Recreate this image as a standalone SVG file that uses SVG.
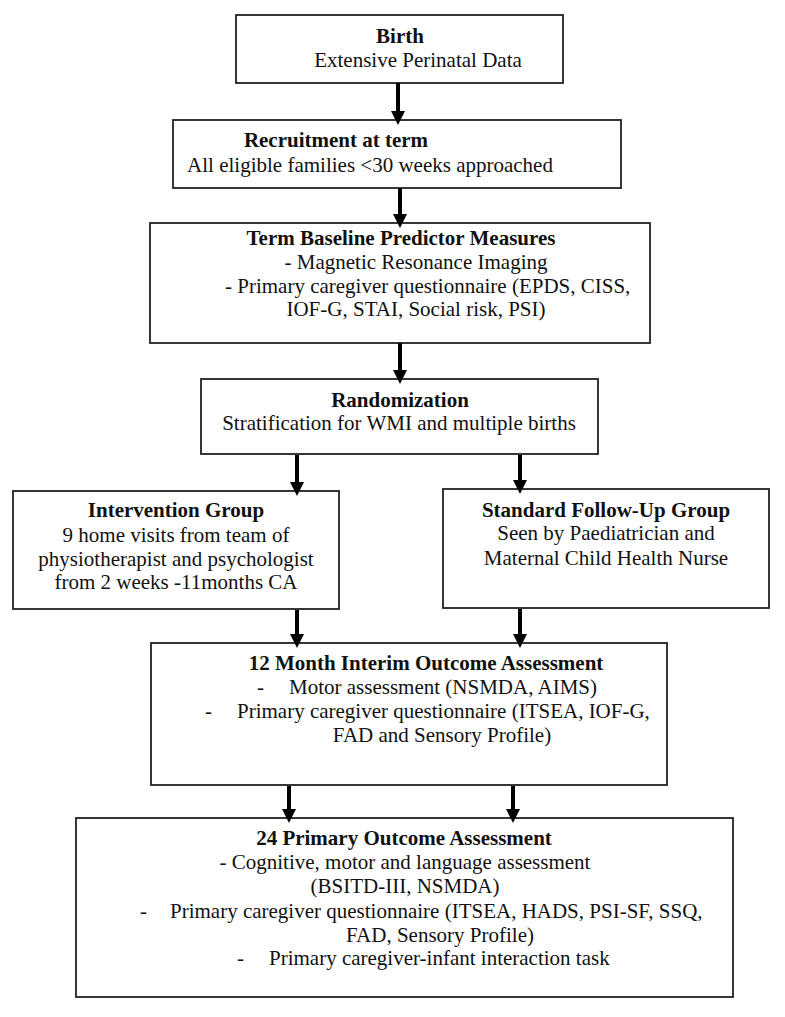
<svg xmlns="http://www.w3.org/2000/svg" width="785" height="1017" viewBox="0 0 785 1017">
<style>
.box{fill:#fff;stroke:#222;stroke-width:1.8}
text{font-family:"Liberation Serif","Times New Roman",serif;font-size:21px;fill:#111}
.b{font-weight:bold}
.c{text-anchor:middle}
.arr{stroke:#000;stroke-width:4;fill:none;marker-end:url(#ah)}
</style>
<defs>
<marker id="ah" markerUnits="userSpaceOnUse" markerWidth="14" markerHeight="14" refX="8" refY="7" orient="auto" viewBox="0 0 14 14">
<path d="M0,0 L14,7 L0,14 z" fill="#000"/>
</marker>
</defs>
<rect width="785" height="1017" fill="#fff"/>
<g id="birth">
<rect class="box" x="236" y="15" width="327" height="68"/>
<text class="b c" x="400" y="43">Birth</text>
<text class="c" x="418" y="67">Extensive Perinatal Data</text>
</g>
<g id="recruitment">
<rect class="box" x="173" y="120" width="448" height="68"/>
<text class="b c" x="336" y="147">Recruitment at term</text>
<text class="c" x="370" y="172">All eligible families &lt;30 weeks approached</text>
</g>
<g id="baseline">
<rect class="box" x="150" y="223" width="500" height="120"/>
<text class="b c" x="401" y="245">Term Baseline Predictor Measures</text>
<text class="c" x="416" y="269">- Magnetic Resonance Imaging</text>
<text x="225" y="293">- Primary caregiver questionnaire (EPDS, CISS,</text>
<text class="c" x="416" y="316">IOF-G, STAI, Social risk, PSI)</text>
</g>
<g id="randomization">
<rect class="box" x="201" y="379" width="397" height="75"/>
<text class="b c" x="400" y="407">Randomization</text>
<text class="c" x="399" y="430">Stratification for WMI and multiple births</text>
</g>
<g id="intervention">
<rect class="box" x="13" y="491" width="326" height="118"/>
<text class="b c" x="176" y="517">Intervention Group</text>
<text class="c" x="176" y="542">9 home visits from team of</text>
<text class="c" x="176" y="566">physiotherapist and psychologist</text>
<text class="c" x="176" y="589">from 2 weeks -11months CA</text>
</g>
<g id="standard">
<rect class="box" x="443" y="489" width="326" height="119"/>
<text class="b c" x="606" y="517">Standard Follow-Up Group</text>
<text class="c" x="606" y="540">Seen by Paediatrician and</text>
<text class="c" x="606" y="565">Maternal Child Health Nurse</text>
</g>
<g id="interim">
<rect class="box" x="151" y="643" width="516" height="142"/>
<text class="b c" x="426" y="670">12 Month Interim Outcome Assessment</text>
<text x="257" y="694">-</text>
<text x="289" y="694">Motor assessment (NSMDA, AIMS)</text>
<text x="205" y="718">-</text>
<text x="237" y="718">Primary caregiver questionnaire (ITSEA, IOF-G,</text>
<text class="c" x="442" y="742">FAD and Sensory Profile)</text>
</g>
<g id="primary">
<rect class="box" x="76" y="818" width="657" height="179"/>
<text class="b c" x="404" y="845">24 Primary Outcome Assessment</text>
<text class="c" x="405" y="869">- Cognitive, motor and language assessment</text>
<text class="c" x="405" y="893">(BSITD-III, NSMDA)</text>
<text x="140" y="918">-</text>
<text x="170" y="918">Primary caregiver questionnaire (ITSEA, HADS, PSI-SF, SSQ,</text>
<text class="c" x="440" y="942">FAD, Sensory Profile)</text>
<text x="237" y="965">-</text>
<text x="269" y="965">Primary caregiver-infant interaction task</text>
</g>
<g id="connectors">
<line class="arr" x1="398" y1="83" x2="398" y2="119"/>
<line class="arr" x1="400" y1="188" x2="400" y2="222"/>
<line class="arr" x1="400" y1="343" x2="400" y2="378"/>
<line class="arr" x1="297" y1="455" x2="297" y2="490"/>
<line class="arr" x1="520" y1="455" x2="520" y2="488"/>
<line class="arr" x1="297" y1="610" x2="297" y2="642"/>
<line class="arr" x1="520" y1="609" x2="520" y2="642"/>
<line class="arr" x1="289" y1="786" x2="289" y2="817"/>
<line class="arr" x1="513" y1="786" x2="513" y2="817"/>
</g>
</svg>
